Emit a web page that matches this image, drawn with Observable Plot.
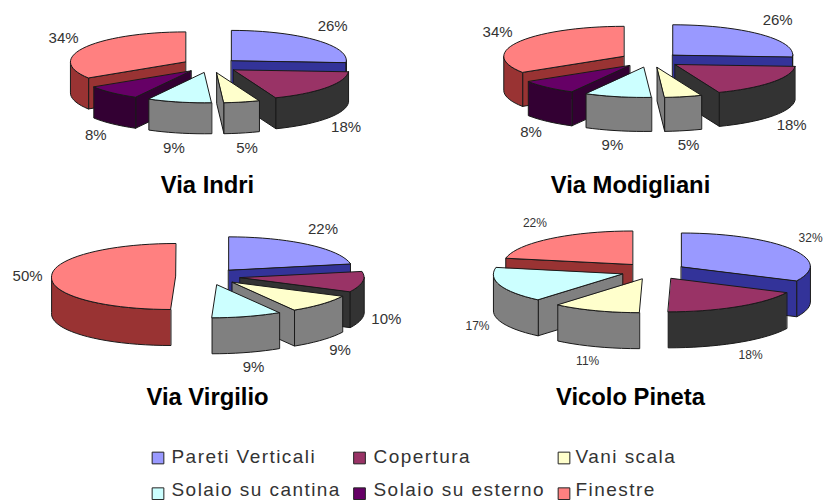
<!DOCTYPE html>
<html>
<head>
<meta charset="utf-8">
<script src="https://cdn.jsdelivr.net/npm/d3@7"></script>
<script src="https://cdn.jsdelivr.net/npm/@observablehq/plot@0.6"></script>
<style>
html,body{margin:0;padding:0;background:#fff}
svg{display:block}
</style>
</head>
<body>
<div id="chart"></div>
<script>
// data: percentages per street, clockwise from 12 o'clock
const categories = ["Pareti Verticali","Copertura","Vani scala","Solaio su cantina","Solaio su esterno","Finestre"];
const viaIndri      = [26,18,5,9,8,34];
const viaModigliani = [26,18,5,9,8,34];
const viaVirgilio   = [22,10,9,9,0,50];
const vicoloPineta  = [32,18,11,17,0,22];

// colours
const topColors  = ["#9999ff","#993366","#ffffcc","#ccffff","#660066","#ff8080"];
const sideColors = ["#333399","#333333","#808080","#808080","#330033","#993333"];

// layout of the four pies
const pies = [
  {name:"Via Indri",      values:viaIndri,      cx:210, cy:65,  rx:115, ry:30, depth:31, blast:28.6, lean:0,  label:15, tx:207, ty:185},
  {name:"Via Modigliani", values:viaModigliani, cx:650, cy:59.5,rx:120, ry:30, depth:34, blast:30.5, lean:0,  label:15, tx:630, ty:185},
  {name:"Via Virgilio",   values:viaVirgilio,   cx:207.5,cy:276,rx:124, ry:33, depth:36, blast:32.4, lean:-5, label:15, tx:207, ty:397},
  {name:"Vicolo Pineta",  values:vicoloPineta,  cx:653, cy:270.6,rx:129, ry:33.5, depth:36, blast:33, lean:-3, label:12, tx:630, ty:397}
];
const legendRows = [[0,1,2],[3,4,5]];
const legendTextY = [456,489.5];
const legendSwatchY = [457.5,493.2];
const legendSwatchX = [157.5,359,563.5];
const legendTextX = [171,373,575];

const rad = d => d*Math.PI/180;
const polys = [], labels = [];
let pid = 0;
for (const p of pies) {
  const slices = [];
  let cum = 0;
  p.values.forEach((v,i) => {
    if (v > 0) slices.push({i, v, a0:cum*3.6, a1:(cum+v)*3.6});
    cum += v;
  });
  for (const s of slices) {
    s.mid = (s.a0+s.a1)/2;
    s.ax = p.cx + p.blast*Math.sin(rad(s.mid));
    s.ay = p.cy - p.blast*Math.cos(rad(s.mid))*p.ry/p.rx;
  }
  slices.sort((a,b) => Math.abs(b.mid-180)-Math.abs(a.mid-180));
  for (const s of slices) {
    const rim = (a,dz=0) => {
      const c = Math.cos(rad(a));
      return {x:s.ax+p.rx*Math.sin(rad(a))+p.lean*Math.max(0,-c), y:s.ay-p.ry*c+dz};
    };
    const add = (pts,fill) => { pid++; for (const q of pts) polys.push({x:q.x,y:q.y,id:pid,fill}); };
    const arc = (from,to,dz=0) => {
      const n = Math.max(2,Math.ceil(Math.abs(to-from)/4)), out=[];
      for (let k=0;k<=n;k++) out.push(rim(from+(to-from)*k/n,dz));
      return out;
    };
    const apexTop = {x:s.ax,y:s.ay}, apexBot = {x:s.ax,y:s.ay+p.depth};
    const side = sideColors[s.i];
    // radial walls that face the viewer
    if (Math.cos(rad(s.a0-90)) < -1e-6) add([apexTop,rim(s.a0),rim(s.a0,p.depth),apexBot],side);
    if (Math.cos(rad(s.a1+90)) < -1e-6) add([apexTop,rim(s.a1),rim(s.a1,p.depth),apexBot],side);
    // outer wall on the front half
    const f0 = Math.max(s.a0,90), f1 = Math.min(s.a1,270);
    if (f1 > f0) add([...arc(f0,f1),...arc(f1,f0,p.depth)],side);
    // top surface
    add([apexTop,...arc(s.a0,s.a1)],topColors[s.i]);
    // percentage label outside the rim
    const cm = Math.cos(rad(s.mid));
    const m = rim(s.mid, cm < -0.05 ? p.depth : 0);
    labels.push({x:m.x+24*Math.sin(rad(s.mid)), y:m.y-(cm>0?20:15)*cm, text:s.v+"%", size:p.label});
  }
}
const legendItems = legendRows.flatMap((row,r)=>row.map((c,k)=>({
  sx:legendSwatchX[k], sy:legendSwatchY[r], tx:legendTextX[k], ty:legendTextY[r], name:categories[c], color:topColors[c]
})));

const plot = Plot.plot({
  width:824, height:500, margin:0,
  x:{domain:[0,824],range:[0,824],axis:null},
  y:{domain:[0,500],range:[0,500],axis:null},
  color:{type:"identity"},
  style:{fontFamily:"'Liberation Sans',Arial,sans-serif",background:"#fff"},
  marks:[
    Plot.line(polys,{x:"x",y:"y",z:"id",fill:"fill",stroke:"#1a1a1a",strokeWidth:1,curve:"linear-closed"}),
    Plot.text(labels,{x:"x",y:"y",text:"text",fontSize:"size",fill:"#333"}),
    Plot.text(pies,{x:"tx",y:"ty",text:"name",fontSize:23.8,fontWeight:"bold",fill:"#000"}),
    Plot.dot(legendItems,{x:"sx",y:"sy",symbol:"square",r:6.6,fill:"color",stroke:"#222",strokeWidth:1}),
    Plot.text(legendItems,{x:"tx",y:"ty",text:"name",textAnchor:"start",fontSize:19,fill:"#333"})
  ]
});
d3.select(plot).selectAll("text").filter(function(){return categories.includes(this.textContent);}).style("letter-spacing","1.45px");
document.getElementById("chart").appendChild(plot);
</script>
</body>
</html>
